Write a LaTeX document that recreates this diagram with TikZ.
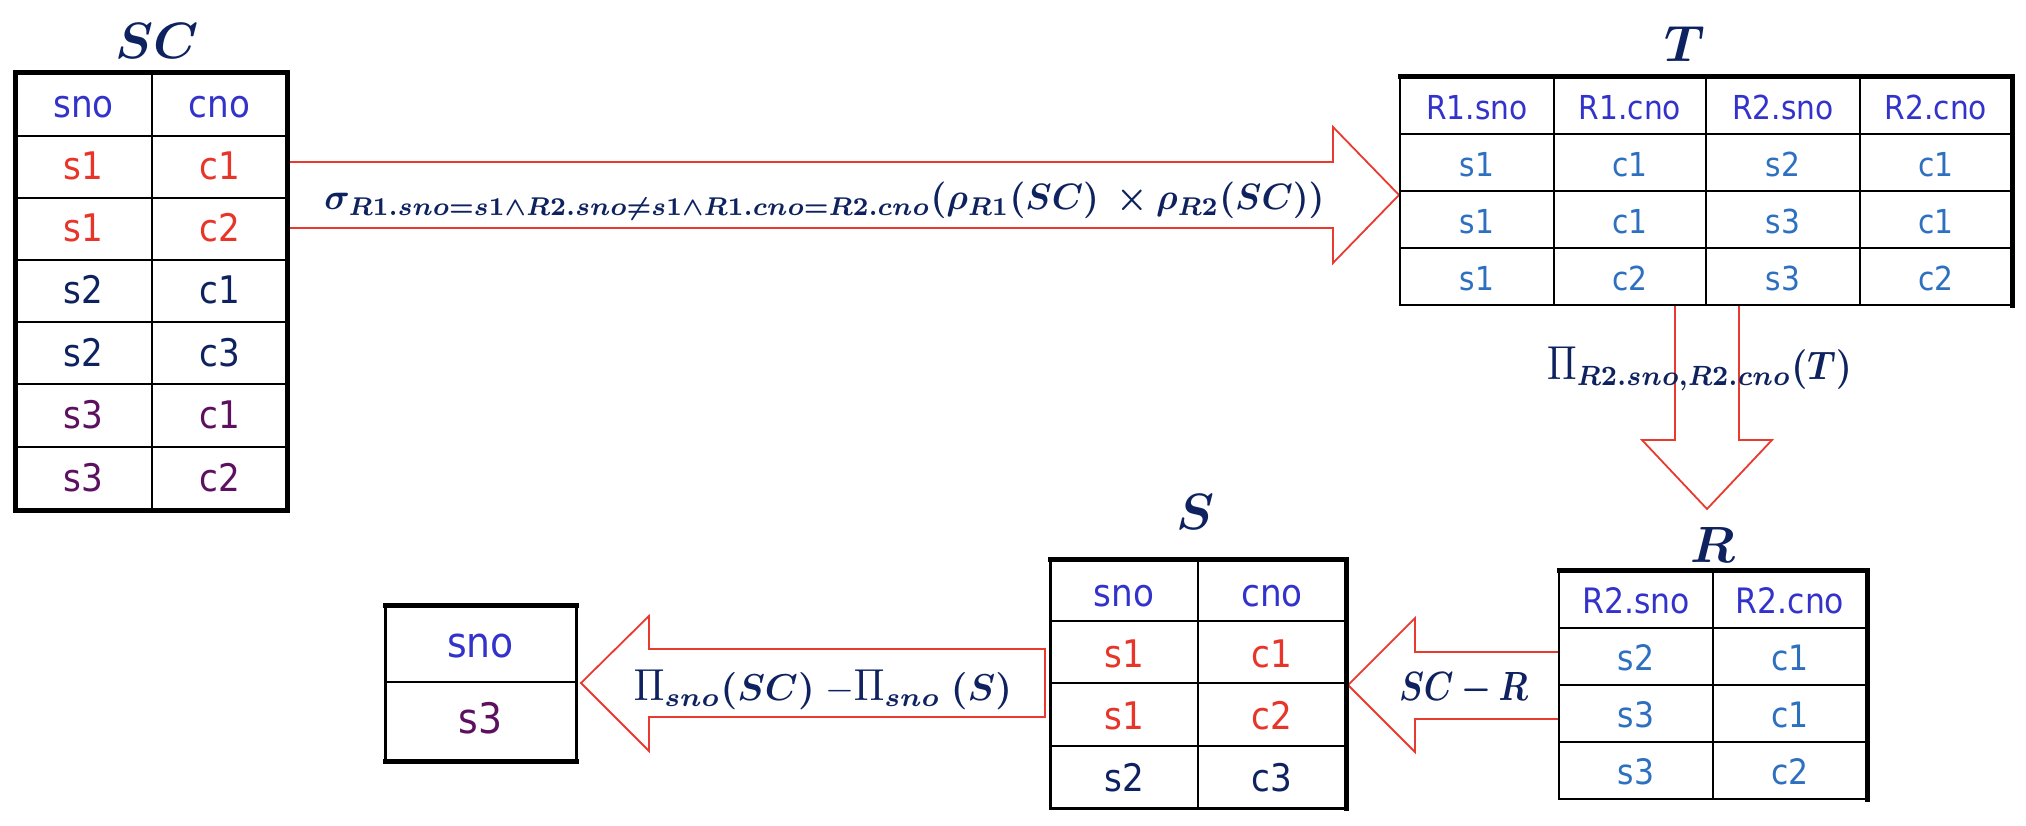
\RequirePackage{fix-cm}
\documentclass[tikz,border=0pt]{standalone}
\usepackage[no-math]{fontspec}
\setmainfont{DejaVu Sans Condensed}
\usepackage{amsmath,bm,graphicx}
\definecolor{hdrblue}{HTML}{3333CC}
\definecolor{rowred}{HTML}{E8352A}
\definecolor{titlenavy}{HTML}{0E2260}
\definecolor{purp}{HTML}{5E1060}
\definecolor{tblue}{HTML}{2E70C0}
\definecolor{arrred}{HTML}{E83A2E}
\newcommand{\myprod}{\scalebox{1.1}[1.2]{$\Pi$}}
\begin{document}
\begin{tikzpicture}[x=1pt,y=-1pt,
  cellL/.style={font=\fontsize{38}{40}\selectfont,inner sep=0pt,anchor=base},
  cellS/.style={font=\fontsize{33}{36}\selectfont,inner sep=0pt,anchor=base},
  cellR/.style={font=\fontsize{35}{38}\selectfont,inner sep=0pt,anchor=base},
  cellX/.style={font=\fontsize{42}{44}\selectfont,inner sep=0pt,anchor=base},
  gridline/.style={line width=2.2pt,black},
  thickb/.style={line width=5pt,black,line cap=rect,line join=miter},
  medb/.style={line width=3pt,black,line cap=rect,line join=miter},
  thinb/.style={line width=2pt,black,line cap=rect,line join=miter},
  blockarrow/.style={draw=arrred,line width=1.8pt,fill=white,line join=miter},
  ttl/.style={text=titlenavy,font=\fontsize{51}{60}\selectfont,inner sep=0pt},
  lbl/.style={text=titlenavy,inner sep=0pt}
]
\fill[white] (0,0) rectangle (2026,826);
\useasboundingbox (0,0) rectangle (2026,826);

% ---------- block arrows ----------
\draw[blockarrow] (287,162) -- (1333,162) -- (1333,127) -- (1399,195) -- (1333,263) -- (1333,228) -- (287,228) -- cycle;
\draw[blockarrow] (1675,305) -- (1675,440) -- (1642,440) -- (1707,509) -- (1772,440) -- (1739,440) -- (1739,305) -- cycle;
\draw[blockarrow] (1559,652) -- (1415,652) -- (1415,618) -- (1348,685) -- (1415,752) -- (1415,719) -- (1559,719) -- cycle;
\draw[blockarrow] (1045,649) -- (649,649) -- (649,616) -- (581,683) -- (649,751) -- (649,717) -- (1045,717) -- cycle;

% ---------- table SC ----------
\node[ttl] (tsc) at (157,41) {$\bm{SC}$};
\draw[gridline] (152,73) -- (152,510);
\foreach \y in {136,198,260,322,384,447} \draw[gridline] (15,\y) -- (287,\y);
\draw[thickb] (15,73) rectangle (287,510);
\node[cellL,text=hdrblue] (sc-h1) at (83.5,117.5) {sno};
\node[cellL,text=hdrblue] (sc-h2) at (219.5,117.5) {cno};
\node[cellL,text=rowred] (sc-11) at (83.5,180) {s1};
\node[cellL,text=rowred] (sc-12) at (219.5,180) {c1};
\node[cellL,text=rowred] (sc-21) at (83.5,242) {s1};
\node[cellL,text=rowred] (sc-22) at (219.5,242) {c2};
\node[cellL,text=titlenavy] (sc-31) at (83.5,304) {s2};
\node[cellL,text=titlenavy] (sc-32) at (219.5,304) {c1};
\node[cellL,text=titlenavy] (sc-41) at (83.5,366) {s2};
\node[cellL,text=titlenavy] (sc-42) at (219.5,366) {c3};
\node[cellL,text=purp] (sc-51) at (83.5,428.5) {s3};
\node[cellL,text=purp] (sc-52) at (219.5,428.5) {c1};
\node[cellL,text=purp] (sc-61) at (83.5,491.5) {s3};
\node[cellL,text=purp] (sc-62) at (219.5,491.5) {c2};

% ---------- table T ----------
\node[ttl] (tt) at (1685,44) {$\bm{T}$};
\foreach \x in {1554,1706,1860} \draw[gridline] (\x,77) -- (\x,305);
\foreach \y in {134,191,248} \draw[gridline] (1400,\y) -- (2012,\y);
\draw[thinb] (1400,77) -- (1400,305) -- (2012,305);
\draw[thickb] (1400,77) -- (2012,77) -- (2012,305);
\node[cellS,text=hdrblue] (t-h1) at (1477,119.5) {R1.sno};
\node[cellS,text=hdrblue] (t-h2) at (1630,119.5) {R1.cno};
\node[cellS,text=hdrblue] (t-h3) at (1783,119.5) {R2.sno};
\node[cellS,text=hdrblue] (t-h4) at (1936,119.5) {R2.cno};
\node[cellS,text=tblue] (t-11) at (1477,176.5) {s1};
\node[cellS,text=tblue] (t-12) at (1630,176.5) {c1};
\node[cellS,text=tblue] (t-13) at (1783,176.5) {s2};
\node[cellS,text=tblue] (t-14) at (1936,176.5) {c1};
\node[cellS,text=tblue] (t-21) at (1477,233.5) {s1};
\node[cellS,text=tblue] (t-22) at (1630,233.5) {c1};
\node[cellS,text=tblue] (t-23) at (1783,233.5) {s3};
\node[cellS,text=tblue] (t-24) at (1936,233.5) {c1};
\node[cellS,text=tblue] (t-31) at (1477,290.5) {s1};
\node[cellS,text=tblue] (t-32) at (1630,290.5) {c2};
\node[cellS,text=tblue] (t-33) at (1783,290.5) {s3};
\node[cellS,text=tblue] (t-34) at (1936,290.5) {c2};

% ---------- table R ----------
\node[ttl] (tr) at (1713,545) {$\bm{R}$};
\draw[gridline] (1713,570) -- (1713,799);
\foreach \y in {628,685,742} \draw[gridline] (1559,\y) -- (1867,\y);
\draw[thinb] (1559,570) -- (1559,799) -- (1867,799);
\draw[thickb] (1559,570) -- (1867,570) -- (1867,799);
\node[cellR,text=hdrblue] (r-h1) at (1636,613) {R2.sno};
\node[cellR,text=hdrblue] (r-h2) at (1790,613) {R2.cno};
\node[cellR,text=tblue] (r-11) at (1636,670.5) {s2};
\node[cellR,text=tblue] (r-12) at (1790,670.5) {c1};
\node[cellR,text=tblue] (r-21) at (1636,727.5) {s3};
\node[cellR,text=tblue] (r-22) at (1790,727.5) {c1};
\node[cellR,text=tblue] (r-31) at (1636,784.5) {s3};
\node[cellR,text=tblue] (r-32) at (1790,784.5) {c2};

% ---------- table S ----------
\node[ttl] (ts) at (1196,512) {$\bm{S}$};
\draw[gridline] (1198,559) -- (1198,808);
\foreach \y in {621,683,746} \draw[gridline] (1050,\y) -- (1346,\y);
\draw[medb] (1050,559) -- (1050,808) -- (1346,808);
\draw[thickb] (1050,559) -- (1346,559) -- (1346,808);
\node[cellL,text=hdrblue] (s-h1) at (1124,606) {sno};
\node[cellL,text=hdrblue] (s-h2) at (1272,606) {cno};
\node[cellL,text=rowred] (s-11) at (1124,667) {s1};
\node[cellL,text=rowred] (s-12) at (1272,667) {c1};
\node[cellL,text=rowred] (s-21) at (1124,729) {s1};
\node[cellL,text=rowred] (s-22) at (1272,729) {c2};
\node[cellL,text=titlenavy] (s-31) at (1124,791) {s2};
\node[cellL,text=titlenavy] (s-32) at (1272,791) {c3};

% ---------- result table ----------
\draw[gridline] (385,682) -- (576,682);
\draw[medb] (385,605) -- (385,761);
\draw[medb] (576,605) -- (576,761);
\draw[thickb] (385,605) -- (576,605);
\draw[thickb] (385,761) -- (576,761);
\node[cellX,text=hdrblue] (x-h1) at (480.5,657) {sno};
\node[cellX,text=purp] (x-11) at (480.5,733) {s3};

% ---------- arrow labels ----------
\node[lbl] (l1) at (824.5,201) {\resizebox*{1000pt}{38pt}{$\bm{\sigma_{R1.sno=s1\wedge R2.sno\neq s1\wedge R1.cno=R2.cno}(\rho_{R1}(SC)\;\times\rho_{R2}(SC))}$}};
\node[lbl] (l2) at (1699.5,369) {\resizebox*{305pt}{44pt}{${\myprod}_{\bm{R2.sno,R2.cno}}\bm{(T)}$}};
\node[lbl] (l3) at (1463.5,689) {\resizebox{129pt}{28pt}{$\bm{SC-R}$}};
\node[lbl] (l4) at (823,690) {\resizebox*{378pt}{40pt}{${\myprod}_{\bm{sno}}\bm{(SC)}\;{-}{\myprod}_{\bm{sno}}\;\bm{(S)}$}};
\end{tikzpicture}
\end{document}
